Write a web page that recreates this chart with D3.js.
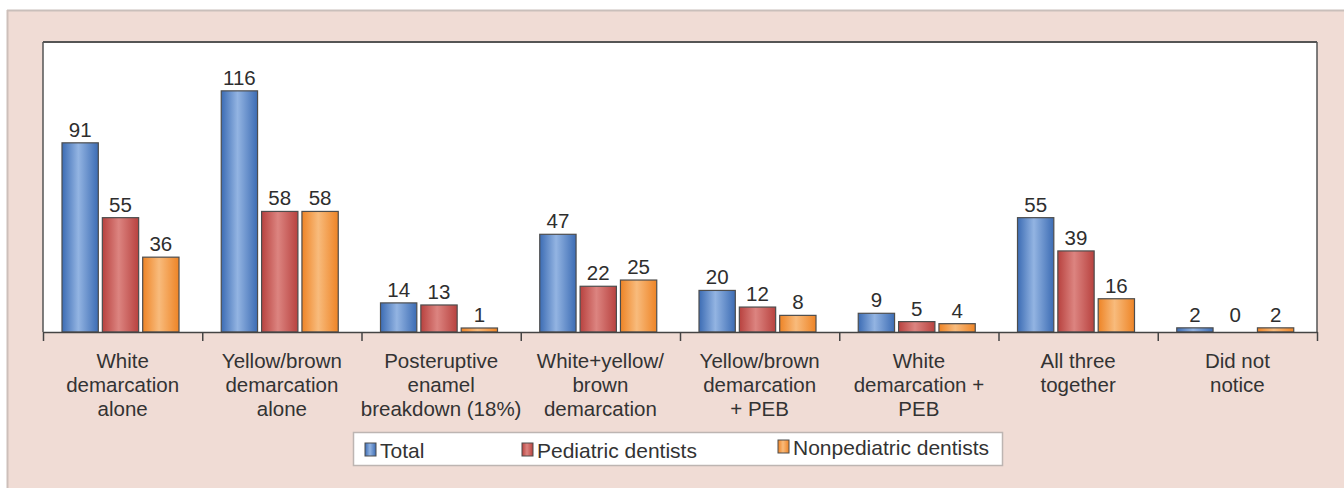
<!DOCTYPE html>
<html>
<head>
<meta charset="utf-8">
<script src="https://cdn.jsdelivr.net/npm/d3@7"></script>
<style>
  html, body { margin: 0; padding: 0; background: #ffffff; }
  svg { display: block; font-family: "Liberation Sans", Arial, sans-serif; }
</style>
</head>
<body>
<svg id="chart" width="1344" height="489"></svg>
<script>
// Categories (each label split into its display lines)
const categories = [
  ["White", "demarcation", "alone"],
  ["Yellow/brown", "demarcation", "alone"],
  ["Posteruptive", "enamel", "breakdown (18%)"],
  ["White+yellow/", "brown", "demarcation"],
  ["Yellow/brown", "demarcation", "+ PEB"],
  ["White", "demarcation +", "PEB"],
  ["All three", "together"],
  ["Did not", "notice"]
];
const seriesNames = ["Total", "Pediatric dentists", "Nonpediatric dentists"];
const totalValues = [91, 116, 14, 47, 20, 9, 55, 2];
const pediatricValues = [55, 58, 13, 22, 12, 5, 39, 0];
const nonpediatricValues = [36, 58, 1, 25, 8, 4, 16, 2];

const seriesValues = [totalValues, pediatricValues, nonpediatricValues];
const seriesColors = [
  { edge: "#3c6cb4", mid: "#93b4e2" },
  { edge: "#b8423f", mid: "#dc8480" },
  { edge: "#ee8426", mid: "#f8bb7c" }
];

const svg = d3.select("#chart");
const W = 1344, H = 489;

// Frame background
svg.append("rect").attr("x", 0).attr("y", 0).attr("width", W).attr("height", H).attr("fill", "#ffffff");
svg.append("rect").attr("x", 7).attr("y", 10).attr("width", W - 7).attr("height", H - 11)
  .attr("fill", "#f0dcd5");
svg.append("line").attr("x1", 7).attr("x2", W).attr("y1", 10.5).attr("y2", 10.5)
  .attr("stroke", "#c9bfbb").attr("stroke-width", 2);
svg.append("line").attr("x1", 7.5).attr("x2", 7.5).attr("y1", 10).attr("y2", H - 1)
  .attr("stroke", "#cdbfba").attr("stroke-width", 2);

// Plot area
const plot = { left: 43, right: 1317, top: 42, bottom: 332 };
svg.append("rect").attr("x", plot.left).attr("y", plot.top)
  .attr("width", plot.right - plot.left).attr("height", plot.bottom - plot.top)
  .attr("fill", "#ffffff");

const x0 = d3.scaleBand()
  .domain(d3.range(categories.length))
  .range([plot.left, plot.right])
  .padding(0);
const x1 = d3.scaleBand()
  .domain(d3.range(seriesNames.length))
  .range([19, 136])
  .paddingInner(0.1);
const y = d3.scaleLinear().domain([0, 139.5]).range([plot.bottom, plot.top]);

// Gradients for the bar shading
const defs = svg.append("defs");
seriesColors.forEach((c, i) => {
  const g = defs.append("linearGradient").attr("id", "grad" + i)
    .attr("x1", "0%").attr("x2", "100%").attr("y1", "0%").attr("y2", "0%");
  g.append("stop").attr("offset", "0%").attr("stop-color", c.edge);
  g.append("stop").attr("offset", "45%").attr("stop-color", c.mid);
  g.append("stop").attr("offset", "100%").attr("stop-color", c.edge);
});

// Bars
const groups = svg.append("g").selectAll("g")
  .data(categories.map((c, i) => i))
  .join("g")
  .attr("transform", i => `translate(${x0(i)},0)`);

groups.selectAll("rect")
  .data(i => seriesValues.map((vals, s) => ({ s, v: vals[i] })))
  .join("rect")
  .filter(d => d.v > 0)
  .attr("x", d => x1(d.s))
  .attr("width", x1.bandwidth())
  .attr("y", d => Math.min(y(d.v), plot.bottom - 4))
  .attr("height", d => Math.max(plot.bottom - y(d.v), 4))
  .attr("fill", d => `url(#grad${d.s})`)
  .attr("stroke", "#4d4d4d")
  .attr("stroke-width", 1.2);

groups.selectAll("text")
  .data(i => seriesValues.map((vals, s) => ({ s, v: vals[i] })))
  .join("text")
  .attr("x", d => x1(d.s) + x1.bandwidth() / 2)
  .attr("y", d => Math.min(y(d.v), plot.bottom - 4) - 6)
  .attr("text-anchor", "middle")
  .attr("font-size", 20.5)
  .attr("fill", "#2e2e2e")
  .text(d => d.v);

// Plot border
svg.append("line").attr("x1", plot.left).attr("x2", plot.right)
  .attr("y1", plot.top).attr("y2", plot.top)
  .attr("stroke", "#555").attr("stroke-width", 2);
svg.append("line").attr("x1", plot.left).attr("x2", plot.left)
  .attr("y1", plot.top).attr("y2", plot.bottom)
  .attr("stroke", "#555").attr("stroke-width", 1.5);
svg.append("line").attr("x1", plot.right).attr("x2", plot.right)
  .attr("y1", plot.top).attr("y2", plot.bottom)
  .attr("stroke", "#555").attr("stroke-width", 1.5);

// Category axis with boundary ticks
const xAxis = d3.axisBottom(d3.scaleLinear().domain([0, categories.length]).range([plot.left, plot.right]))
  .tickValues(d3.range(categories.length + 1))
  .tickSize(9)
  .tickSizeOuter(0)
  .tickFormat("");
const axisG = svg.append("g").attr("transform", `translate(0,${plot.bottom})`).call(xAxis);
axisG.select(".domain").attr("stroke", "#444").attr("stroke-width", 1.5);
axisG.selectAll(".tick line").attr("stroke", "#444").attr("stroke-width", 1.5);

// Category labels
const labels = svg.append("g").selectAll("text")
  .data(categories)
  .join("text")
  .attr("x", (d, i) => x0(i) + x0.bandwidth() / 2)
  .attr("y", 368)
  .attr("text-anchor", "middle")
  .attr("font-size", 20.5)
  .attr("fill", "#333");
labels.selectAll("tspan")
  .data(d => d)
  .join("tspan")
  .attr("x", function () { return d3.select(this.parentNode).attr("x"); })
  .attr("dy", (d, i) => i === 0 ? 0 : 24)
  .text(d => d);

// Legend
const legend = svg.append("g");
legend.append("rect").attr("x", 353.5).attr("y", 432.5).attr("width", 649).attr("height", 33)
  .attr("fill", "#ffffff").attr("stroke", "#bdb5b2").attr("stroke-width", 1.5);
const legendItems = [
  { x: 365, dy: 0 },
  { x: 522, dy: 0 },
  { x: 778, dy: -3 }
];
legendItems.forEach((it, i) => {
  legend.append("rect").attr("x", it.x).attr("y", 443 + it.dy).attr("width", 11).attr("height", 13)
    .attr("fill", `url(#grad${i})`).attr("stroke", "#4d4d4d").attr("stroke-width", 1);
  legend.append("text").attr("x", it.x + 15).attr("y", 458 + it.dy)
    .attr("font-size", 21).attr("fill", "#333")
    .text(seriesNames[i]);
});
</script>
</body>
</html>
